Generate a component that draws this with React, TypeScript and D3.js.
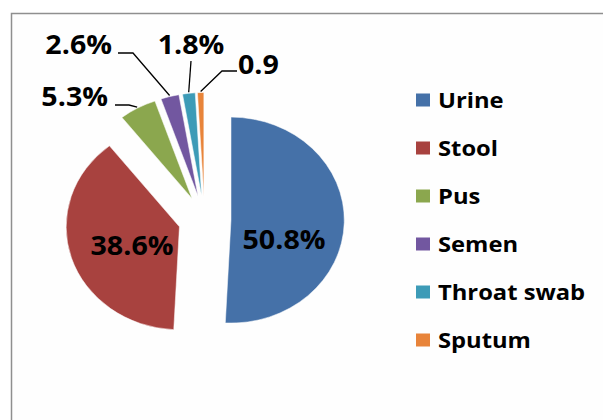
import React from 'react'
import * as d3 from 'd3'

// specimen share (%)
const categories = ['Urine', 'Stool', 'Pus', 'Semen', 'Throat swab', 'Sputum']
const percents = [50.8, 38.6, 5.3, 2.6, 1.8, 0.9]
const labelTexts = ['50.8%', '38.6%', '5.3%', '2.6%', '1.8%', '0.9']
const colors = ['#4571a8', '#a8423f', '#8ba74e', '#7257a0', '#3d9bb7', '#e8843a']

const width = 603
const height = 420
const cx = 204.6
const cy = 219.5
const radius = 103
const explode = 24
const stretch = 1.1 // the reference is a bit wider than tall
const textStretch = 1.1
const font = '"Open Sans", "Liberation Sans", sans-serif'

// where each data label sits (x, baseline, anchor) and where its leader starts
const labelLayout = [
  {x: 284, y: 249, anchor: 'middle', leader: null},
  {x: 132, y: 255, anchor: 'middle', leader: null},
  {x: 108, y: 106, anchor: 'end', leader: [[115, 105], [129, 105]]},
  {x: 112, y: 54, anchor: 'end', leader: [[118, 53], [133, 53]]},
  {x: 191, y: 54, anchor: 'middle', leader: [[191, 61]]},
  {x: 238, y: 74, anchor: 'start', leader: [[237, 71], [222, 71]]}
]

const App = () => {
  const pie = d3.pie<number>().sort(null).value(d => d)
  const arcs = pie(percents)
  const arc = d3.arc<d3.PieArcDatum<number>>().innerRadius(0).outerRadius(radius)

  const offset = (a: d3.PieArcDatum<number>, r: number) => {
    const m = (a.startAngle + a.endAngle) / 2
    return [cx + Math.sin(m) * r * stretch, cy - Math.cos(m) * r]
  }

  const slices = arcs.map((a, i) => {
    const [ox, oy] = offset(a, explode)
    return (
      <path key={i} d={arc(a) || ''} fill={colors[i]} stroke="#ffffff" strokeOpacity={0.55} strokeWidth={0.9}
        transform={`translate(${ox},${oy}) scale(${stretch},1)`}/>
    )
  })

  const line = d3.line()
  const leaders = arcs.map((a, i) => {
    const lay = labelLayout[i]
    if (!lay.leader) return null
    const end = offset(a, explode + radius + 1)
    const pts = [...lay.leader, end] as [number, number][]
    return <path key={i} d={line(pts) || ''} fill="none" stroke="#000" strokeWidth={1.3}/>
  })

  const labels = arcs.map((a, i) => {
    const lay = labelLayout[i]
    return (
      <text key={i} transform={`translate(${lay.x},${lay.y}) scale(${textStretch},1)`} textAnchor={lay.anchor}
        fontFamily={font} fontWeight={700} fontSize={26} fill="#000">{labelTexts[i]}</text>
    )
  })

  const legendY = d3.scalePoint<string>().domain(categories).range([100, 340])
  const legend = categories.map((c, i) => {
    const y = legendY(c) as number
    return (
      <g key={c}>
        <rect x={416} y={y - 6.5} width={14} height={13} fill={colors[i]}/>
        <text transform={`translate(438,${y + 8}) scale(1.08,1)`} fontFamily={font} fontWeight={700}
          fontSize={22} fill="#000">{c}</text>
      </g>
    )
  })

  return (
    <svg width={width} height={height} style={{position: 'absolute', left: 0, top: 0, background: '#fff'}}>
      <rect x={11.5} y={13.5} width={700} height={500} fill="#fefefe" stroke="#8f8f8f" strokeWidth={1.5}/>
      <g>{slices}</g>
      <g>{leaders}</g>
      <g>{labels}</g>
      <g>{legend}</g>
    </svg>
  )
}

export default App
